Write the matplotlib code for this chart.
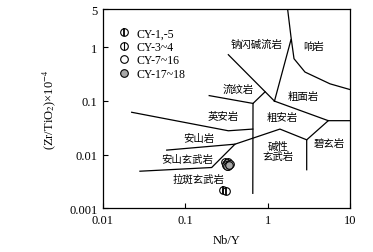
import matplotlib
matplotlib.use("Agg")
import matplotlib.pyplot as plt
from matplotlib.legend_handler import HandlerTuple

plt.rcParams['font.family'] = ['Liberation Serif', 'DejaVu Serif']
plt.rcParams['mathtext.fontset'] = 'stix'

# field boundaries (Nb/Y, Zr/TiO2*1e-4)
b_com_pho = [(1.75, 5.0), (1.92, 1.55), (2.09, 0.607), (2.84, 0.343), (5.72, 0.207), (10.0, 0.162)]
b_com_tra = [(1.92, 1.37), (1.21, 0.0987)]
b_rhy_top = [(0.333, 0.721), (1.21, 0.0987)]
b_tra_tan = [(1.21, 0.0987), (5.45, 0.0427), (10.0, 0.0427)]
b_tan_bsn = [(5.45, 0.0427), (2.98, 0.0188), (2.98, 0.00522)]
b_rhy_tan = [(0.929, 0.1466), (0.664, 0.0894), (0.66, 0.0019)]
b_rhy_dac = [(0.195, 0.125), (0.664, 0.0894)]
b_dac_and = [(0.0223, 0.0612), (0.333, 0.0277), (0.66, 0.0298)]
b_and_bas = [(0.0594, 0.0121), (0.401, 0.0156), (1.41, 0.0298), (2.98, 0.0188)]
b_sab_bas = [(0.0281, 0.0049), (0.209, 0.00574), (0.401, 0.0156)]
boundaries = [b_com_pho, b_com_tra, b_rhy_top, b_tra_tan, b_tan_bsn,
              b_rhy_tan, b_rhy_dac, b_dac_and, b_and_bas, b_sab_bas]

# samples
cy1_x = [0.289, 0.312]
cy1_y = [0.00219, 0.00209]
cy3_x = [0.303, 0.330]
cy3_y = [0.00721, 0.00735]
cy7_x = [0.315, 0.325, 0.340, 0.330, 0.310, 0.345]
cy7_y = [0.0066, 0.0070, 0.0068, 0.0062, 0.0064, 0.0066]
cy17_x = [0.320, 0.336]
cy17_y = [0.0061, 0.0065]

# field names
field_names = ["钠闪碱流岩", "响岩", "流纹岩", "粗面岩", "英安岩", "粗安岩",
               "安山岩", "安山玄武岩", "拉斑玄武岩", "碱性\n玄武岩", "碧玄岩"]
field_x = [0.736, 3.58, 0.432, 2.71, 0.289, 1.48, 0.147, 0.106, 0.144, 1.35, 5.56]
field_y = [1.14, 1.06, 0.171, 0.121, 0.0526, 0.0492, 0.0200, 0.00822, 0.0036, 0.0116, 0.0163]

fig = plt.figure(figsize=(3.73, 2.53), dpi=100)
ax = fig.add_axes([0.2761, 0.1727, 0.6622, 0.7858])
ax.set_xscale('log')
ax.set_yscale('log')
ax.set_xlim(0.01, 10)
ax.set_ylim(0.001, 5)

for b in boundaries:
    xs = [p[0] for p in b]
    ys = [p[1] for p in b]
    ax.plot(xs, ys, color='black', lw=0.9)

ms = 5.5
h1a, = ax.plot(cy1_x, cy1_y, 'o', ms=ms, mfc='white', mec='black', mew=0.8, ls='none')
h1b, = ax.plot(cy1_x, cy1_y, '|', ms=ms, mec='black', mew=1.3, ls='none')
h3a, = ax.plot(cy3_x, cy3_y, 'o', ms=ms, mfc='white', mec='black', mew=0.8, ls='none')
h3b, = ax.plot(cy3_x, cy3_y, '|', ms=ms, mec='black', mew=0.8, ls='none')
h7, = ax.plot(cy7_x, cy7_y, 'o', ms=ms, mfc='white', mec='black', mew=0.8, ls='none')
h17, = ax.plot(cy17_x, cy17_y, 'o', ms=ms, mfc='#a8a8a8', mec='black', mew=0.8, ls='none')

for name, x, y in zip(field_names, field_x, field_y):
    ax.text(x, y, name, ha='center', va='center', fontsize=7.5,
            family=['Noto Sans CJK SC', 'DejaVu Sans'], linespacing=0.95)

ax.legend([(h1a, h1b), (h3a, h3b), h7, h17],
          ["CY-1,-5", "CY-3~4", "CY-7~16", "CY-17~18"],
          handler_map={tuple: HandlerTuple(ndivide=1)},
          loc='upper left', bbox_to_anchor=(0.062, 0.91), frameon=False,
          fontsize=8.5, handlelength=1.0, handletextpad=0.5, labelspacing=0.12,
          borderpad=0, borderaxespad=0)

ax.set_xticks([0.01, 0.1, 1, 10])
ax.set_xticklabels(["0.01", "0.1", "1", "10"])
ax.set_yticks([0.001, 0.01, 0.1, 1, 5])
ax.set_yticklabels(["0.001", "0.01", "0.1", "1", "5"])
ax.minorticks_off()
ax.tick_params(direction='in', length=3.5, width=0.8, labelsize=9, pad=4)
for s in ax.spines.values():
    s.set_linewidth(0.9)

ax.set_xlabel("Nb/Y", fontsize=9, labelpad=6)
ax.set_ylabel("(Zr/TiO$_2$)×10$^{-4}$", fontsize=9, labelpad=8)

fig.savefig("out.png", dpi=100)
